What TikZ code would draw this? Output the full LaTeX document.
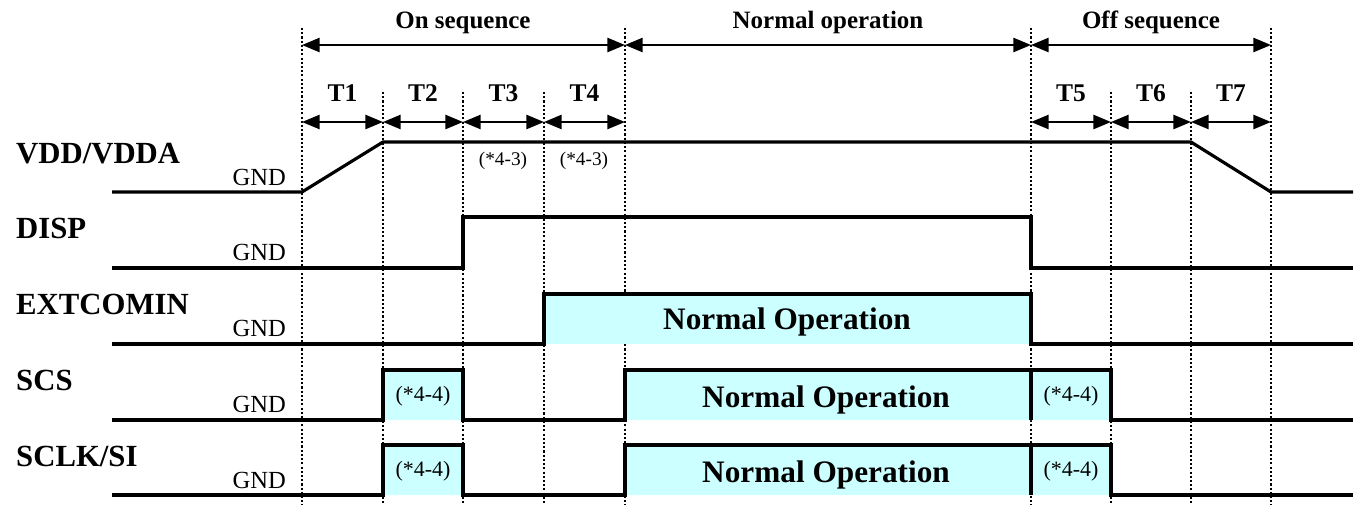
\documentclass[tikz,border=0pt]{standalone}
\usepackage{fontspec}
\setmainfont{Liberation Serif}
\usetikzlibrary{arrows.meta}

\definecolor{opcyan}{RGB}{204,255,255}

\tikzset{
  sig/.style={line width=1.8pt},
  guide/.style={line width=1.3pt, dash pattern=on 1.2pt off 1.2pt},
  span/.style={line width=1.2pt, {Triangle[length=10pt,width=8pt]}-{Triangle[length=10pt,width=8pt]}},
  opfill/.style={fill=opcyan},
  signame/.style={anchor=base west, font=\bfseries\fontsize{17.5}{18}\selectfont},
  gnd/.style={anchor=base east, font=\fontsize{14}{15}\selectfont},
  phase/.style={anchor=base, font=\bfseries\fontsize{14.2}{15}\selectfont},
  tlabel/.style={anchor=base, yshift=11.5pt, font=\bfseries\fontsize{14.5}{15}\selectfont},
  optext/.style={anchor=base, font=\bfseries\fontsize{17.8}{18}\selectfont},
  note/.style={font=\fontsize{12.5}{13}\selectfont},
  smallnote/.style={font=\fontsize{11}{12}\selectfont}
}

\begin{document}
\begin{tikzpicture}[x=0.02cm, y=-0.02cm]
  \useasboundingbox (0,0) rectangle (1357,511);

  % time marks
  \foreach \x in {302,625,1031,1271} \draw[guide] (\x,28) -- (\x,505);
  \foreach \x in {383,463,544,1111,1191} \draw[guide] (\x,92) -- (\x,505);

  % phases
  \foreach \x [count=\i] in {302,625,1031,1271} \coordinate (p\i) at (\x,45);
  \draw[span] (p1) -- (p2);
  \draw[span] (p2) -- (p3);
  \draw[span] (p3) -- (p4);
  \node[phase] (onseq) at (463,28) {On sequence};
  \node[phase] (normop) at (828,28) {Normal operation};
  \node[phase] (offseq) at (1151,28) {Off sequence};

  % T1 ... T7
  \foreach \x [count=\i] in {302,383,463,544,625,1031,1111,1191,1271} \coordinate (t\i) at (\x,122);
  \foreach \a/\b/\n in {1/2/1,2/3/2,3/4/3,4/5/4,6/7/5,7/8/6,8/9/7}
    \draw[span] (t\a) -- node[tlabel] (T\n) {T\n} (t\b);

  % signal names
  \foreach \s [count=\i] in {VDD/VDDA,DISP,EXTCOMIN,SCS,SCLK/SI} {
    \pgfmathtruncatemacro{\lo}{192+75.8*(\i-1)}
    \node[signame] (sig\i) at (10,\lo-29) {\s};
    \node[gnd] (gnd\i) at (292,\lo-7) {GND};
  }

  % VDD/VDDA
  \draw[sig] (112,192) -- (302,192) -- (383,142) -- (1191,142) -- (1271,192) -- (1353,192);
  \node[smallnote] (vdd3) at (503,161) {(*4-3)};
  \node[smallnote] (vdd4) at (584,161) {(*4-3)};

  % DISP
  \draw[sig] (112,268) -- (463,268) |- (1031,217) |- (1353,268);

  % EXTCOMIN
  \fill[opfill] (544,294) rectangle (1031,344);
  \draw[sig] (112,344) -- (544,344) |- (1031,294) |- (1353,344);
  \node[optext] (extop) at (787,329) {Normal Operation};

  % SCS, SCLK/SI
  \foreach \lo [count=\i] in {420,495} {
    \pgfmathtruncatemacro{\hi}{\lo-50}
    \fill[opfill] (383,\hi) rectangle (463,\lo) (625,\hi) rectangle (1111,\lo);
    \draw[sig] (112,\lo) -- (383,\lo) |- (463,\hi) |- (625,\lo) |- (1111,\hi) |- (1353,\lo);
    \draw[sig] (1031,\hi) -- (1031,\lo);
    \node[note] (pre\i) at (423,\lo-24) {(*4-4)};
    \node[optext] (op\i) at (826,\lo-13) {Normal Operation};
    \node[note] (post\i) at (1071,\lo-24) {(*4-4)};
  }
\end{tikzpicture}
\end{document}
